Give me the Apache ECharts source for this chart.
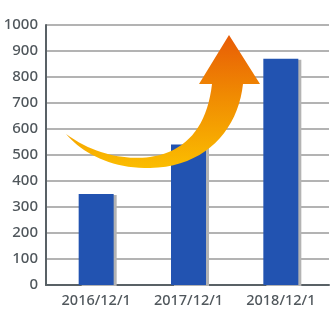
<!DOCTYPE html>
<html><head><meta charset="utf-8">
<script src="https://cdn.jsdelivr.net/npm/echarts@6/dist/echarts.min.js"></script>
<style>html,body{margin:0;padding:0;background:#fff}#c{width:335px;height:315px}</style>
</head><body><div id="c"></div>
<script>
var categories = ['2016/12/1', '2017/12/1', '2018/12/1'];
var values = [350, 540, 870];
var yTicks = [0, 100, 200, 300, 400, 500, 600, 700, 800, 900, 1000];

// decorative arrow outline (pixel space): segments of cubic beziers and lines
function cubic(p0, p1, p2, p3, n, out) {
  for (var i = 1; i <= n; i++) {
    var t = i / n, u = 1 - t;
    out.push([u*u*u*p0[0] + 3*u*u*t*p1[0] + 3*u*t*t*p2[0] + t*t*t*p3[0],
              u*u*u*p0[1] + 3*u*u*t*p1[1] + 3*u*t*t*p2[1] + t*t*t*p3[1]]);
  }
}
var pts = [[66, 134]];
cubic([66,134], [95,155], [125,160], [150,157], 20, pts);
cubic([150,157], [185,152], [207,128], [212,84], 20, pts);
pts.push([199, 84], [229, 35], [260, 84], [243, 84]);
cubic([243,84], [238,130], [205,167], [150,168], 20, pts);
cubic([150,168], [112,169], [82,153], [66,134], 20, pts);

var chart = echarts.init(document.getElementById('c'));
var axisColor = '#596166';
var textColor = '#50575c';
chart.setOption({
  animation: false,
  grid: [
    {left: 46, right: 6, top: 25, bottom: 30},
    {left: 50, right: 8, top: 25, bottom: 30}
  ],
  xAxis: [
    {gridIndex: 0, type: 'value', min: 0, max: 1,
     axisLine: {show: true, onZero: false, lineStyle: {color: axisColor, width: 2}},
     axisTick: {show: false}, axisLabel: {show: false}, splitLine: {show: false}},
    {gridIndex: 1, type: 'category', data: categories,
     axisLine: {show: false}, axisTick: {show: false},
     axisLabel: {color: textColor, fontSize: 14.5, fontWeight: 500, margin: 8, fontFamily: 'Noto Sans'}}
  ],
  yAxis: [
    {gridIndex: 0, type: 'value', min: yTicks[0], max: yTicks[yTicks.length - 1], interval: 100,
     axisLine: {show: true, lineStyle: {color: axisColor, width: 2}},
     axisTick: {show: false},
     axisLabel: {color: textColor, fontSize: 15, fontWeight: 500, margin: 8, fontFamily: 'Noto Sans',
                 formatter: function (v) { return String(v); }},
     splitLine: {show: true, lineStyle: {color: '#b3b3b3', width: 2}}},
    {gridIndex: 1, type: 'value', min: yTicks[0], max: yTicks[yTicks.length - 1], interval: 100,
     show: false}
  ],
  series: [{
    type: 'bar', xAxisIndex: 1, yAxisIndex: 1, data: values, barWidth: 35,
    itemStyle: {color: '#2253b1', shadowColor: '#b3b3b3', shadowOffsetX: 3, shadowOffsetY: 1, shadowBlur: 0}
  }],
  graphic: [{
    type: 'polygon', z: 100,
    shape: {points: pts},
    style: {fill: {type: 'linear', x: 0, y: 0, x2: 0, y2: 1, colorStops: [
      {offset: 0, color: '#e85c06'},
      {offset: 0.45, color: '#f08a02'},
      {offset: 1, color: '#fbbd00'}
    ]}}
  }]
});
</script></body></html>
